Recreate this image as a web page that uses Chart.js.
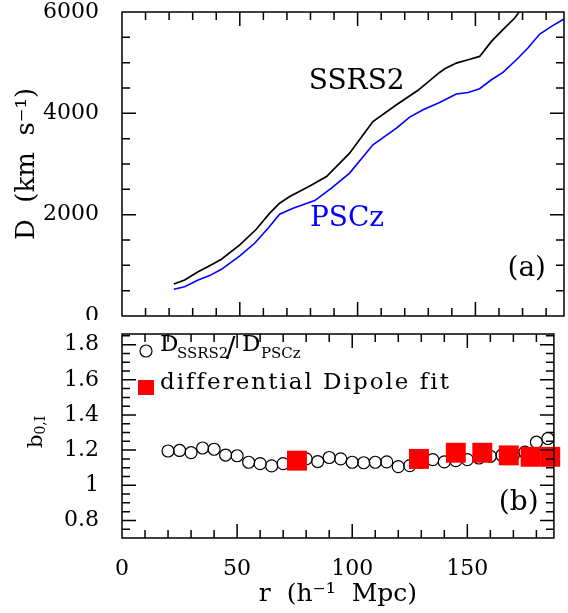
<!DOCTYPE html>
<html>
<head>
<meta charset="utf-8">
<script src="https://cdn.jsdelivr.net/npm/chart.js@4.4.0/dist/chart.umd.min.js"></script>
<style>
body{margin:0;background:#fff;}
#wrap{position:relative;width:568px;height:613px;}
canvas{position:absolute;left:0;}
</style>
</head>
<body>
<div id="wrap">
<canvas id="top" width="568" height="320" style="top:0"></canvas>
<canvas id="bot" width="568" height="293" style="top:320px"></canvas>
</div>
<script>
// values (r in h^-1 Mpc, D in km/s)
var rSSRS2 = [22, 26.6, 32.3, 37.2, 42.2, 50, 57, 62.7, 66.9, 71.2, 79.7, 86.8, 96.6, 106.5, 116.5, 125.5, 134.8, 137, 141.9, 146.9, 151.8, 156.8, 161.7, 166.7, 169.5, 175];
var dSSRS2 = [632, 711, 875, 994, 1120, 1403, 1712, 2029, 2226, 2357, 2568, 2753, 3214, 3839, 4169, 4450, 4807, 4880, 4992, 5058, 5123, 5420, 5651, 5882, 6060, 6400];
var rPSCz = [22, 26.6, 32.3, 37.2, 42.2, 50, 56.3, 62, 66.9, 72.6, 81.8, 88.9, 96.6, 106.5, 116.5, 122.1, 127.8, 134.8, 141.9, 146.9, 151.8, 156.8, 161.7, 167.4, 172.3, 177.3, 182.3, 187.6];
var dPSCz = [527, 579, 711, 797, 922, 1185, 1436, 1732, 2009, 2128, 2278, 2523, 2820, 3378, 3708, 3926, 4070, 4214, 4380, 4412, 4485, 4663, 4807, 5058, 5289, 5565, 5716, 5862];

// panel (b): ratio D_SSRS2/D_PSCz (circles) and differential dipole fit (squares)
var rRatio = [20, 25, 30, 35, 40, 45, 50, 55, 60, 65, 70, 75, 80, 85, 90, 95, 100, 105, 110, 115, 120, 125, 130, 135, 140, 145, 150, 155, 160, 165, 170, 175, 180, 185];
var bRatio = [1.195, 1.198, 1.186, 1.212, 1.205, 1.172, 1.168, 1.131, 1.123, 1.110, 1.123, 1.14, 1.15, 1.135, 1.158, 1.15, 1.131, 1.128, 1.131, 1.133, 1.106, 1.112, 1.13, 1.146, 1.133, 1.14, 1.146, 1.155, 1.165, 1.171, 1.172, 1.188, 1.245, 1.266];
var rFit = [76, 129, 145, 156.5, 168, 177.5, 186];
var bFit = [1.14, 1.15, 1.185, 1.185, 1.17, 1.162, 1.162];

var xTicks = [0, 50, 100, 150];
var dTicks = [0, 2000, 4000, 6000];
var bTicks = [0.8, 1, 1.2, 1.4, 1.6, 1.8];

Chart.defaults.font.family = '"DejaVu Serif", serif';
Chart.defaults.color = '#000';

function pts(xs, ys) { return xs.map(function(x, i) { return {x: x, y: ys[i]}; }); }
function fmt(v) { return String(Math.round(v * 100) / 100); }
function setTicks(arr) { return function(s) { s.ticks = arr.map(function(v) { return {value: v}; }); }; }
// axis boxes get a fixed size so both panels line up
function fixW(w) { return function(s) { s.width = w; s.paddingTop = 0; s.paddingBottom = 0; }; }
function fixH(h) { return function(s) { s.height = h; s.paddingLeft = 0; s.paddingRight = 0; }; }
function isMajor(v, m) { return Math.abs(v / m - Math.round(v / m)) < 1e-6; }

// box round the plot + ticks pointing inwards on all 4 sides
function makeFrame(xs, xm, ys, ym) {
  return {
    id: 'frame',
    afterDraw: function(chart) {
      var ctx = chart.ctx, a = chart.chartArea, sx = chart.scales.x, sy = chart.scales.y;
      var k, v, p, len;
      ctx.save();
      ctx.strokeStyle = '#000';
      ctx.lineWidth = 1.5;
      ctx.beginPath();
      for (k = Math.ceil(sx.min / xs - 1e-6); k * xs <= sx.max + 1e-6; k++) {
        v = k * xs; p = sx.getPixelForValue(v); len = isMajor(v, xm) ? 14 : 8;
        ctx.moveTo(p, a.bottom); ctx.lineTo(p, a.bottom - len);
        ctx.moveTo(p, a.top); ctx.lineTo(p, a.top + len);
      }
      for (k = Math.ceil(sy.min / ys - 1e-6); k * ys <= sy.max + 1e-6; k++) {
        v = k * ys; p = sy.getPixelForValue(v); len = isMajor(v, ym) ? 14 : 8;
        ctx.moveTo(a.left, p); ctx.lineTo(a.left + len, p);
        ctx.moveTo(a.right, p); ctx.lineTo(a.right - len, p);
      }
      ctx.rect(a.left, a.top, a.right - a.left, a.bottom - a.top);
      ctx.stroke();
      ctx.restore();
    }
  };
}

// text labels placed in data coordinates
function makeNotes(items) {
  return {
    id: 'notes',
    afterDatasetsDraw: function(chart) {
      var ctx = chart.ctx, sx = chart.scales.x, sy = chart.scales.y;
      ctx.save();
      ctx.textAlign = 'center';
      ctx.textBaseline = 'alphabetic';
      items.forEach(function(t) {
        ctx.font = t.size + 'px "DejaVu Serif"';
        ctx.fillStyle = t.color || '#000';
        ctx.fillText(t.text, sx.getPixelForValue(t.x), sy.getPixelForValue(t.y));
      });
      ctx.restore();
    }
  };
}

// legend with subscripts and the b_{0,I} axis label (chart.js can't do subscripts)
var extras = {
  id: 'extras',
  afterDatasetsDraw: function(chart) {
    var ctx = chart.ctx;
    ctx.save();
    ctx.fillStyle = '#000';
    ctx.textAlign = 'left';
    ctx.textBaseline = 'alphabetic';
    // circle marker
    ctx.beginPath();
    ctx.arc(146, 31, 6, 0, Math.PI * 2);
    ctx.lineWidth = 1.2;
    ctx.strokeStyle = '#000';
    ctx.stroke();
    ctx.font = '23px "DejaVu Serif"';
    ctx.fillText('D', 160, 31);
    ctx.fillText('D', 242, 31);
    ctx.font = '28px "DejaVu Serif"';
    ctx.fillText('/', 226, 37);
    ctx.font = '15px "DejaVu Serif"';
    ctx.fillText('SSRS2', 177, 38);
    ctx.fillText('PSCz', 261, 38);
    // red square marker
    ctx.fillStyle = '#ff0000';
    ctx.fillRect(138, 60, 16, 15);
    ctx.fillStyle = '#000';
    ctx.font = '23px "DejaVu Serif"';
    ctx.letterSpacing = '2px';
    ctx.fillText('differential Dipole fit', 160, 69);
    ctx.letterSpacing = '0px';
    // y label b_{0,I}
    ctx.translate(42, 128);
    ctx.rotate(-Math.PI / 2);
    ctx.font = '21px "DejaVu Serif"';
    ctx.fillText('b', 0, 0);
    var w = ctx.measureText('b').width;
    ctx.font = '14px "DejaVu Serif"';
    ctx.fillText('0,I', w, 3);
    ctx.restore();
  }
};

var tickFont = {size: 22};

new Chart(document.getElementById('top'), {
  type: 'scatter',
  data: {
    datasets: [
      {data: pts(rSSRS2, dSSRS2), showLine: true, borderColor: '#000', borderWidth: 1.7, pointRadius: 0, tension: 0},
      {data: pts(rPSCz, dPSCz), showLine: true, borderColor: '#0000ff', borderWidth: 1.6, pointRadius: 0, tension: 0}
    ]
  },
  options: {
    responsive: false,
    animation: false,
    layout: {padding: {top: 12, right: 4, bottom: 4, left: 0}},
    scales: {
      x: {min: 0, max: 187.6, display: false},
      y: {
        min: 0, max: 6000,
        afterBuildTicks: setTicks(dTicks),
        afterFit: fixW(122),
        grid: {display: false}, border: {display: false},
        ticks: {font: tickFont, padding: 15, callback: fmt},
        title: {display: true, text: 'D  (km  s\u207B\u00B9)', font: {size: 26}, padding: {top: 12, bottom: 0}}
      }
    },
    plugins: {legend: {display: false}, tooltip: {enabled: false}}
  },
  plugins: [
    makeFrame(10, 50, 500, 2000),
    makeNotes([
      {text: 'SSRS2', x: 99.6, y: 4480, size: 28},
      {text: 'PSCz', x: 95.5, y: 1778, size: 28, color: '#0000ff'},
      {text: '(a)', x: 171.8, y: 790, size: 28}
    ])
  ]
});

new Chart(document.getElementById('bot'), {
  type: 'scatter',
  data: {
    datasets: [
      {data: pts(rFit, bFit), pointStyle: 'rect', pointRadius: 14.1, backgroundColor: '#ff0000', borderWidth: 0, clip: false},
      {data: pts(rRatio, bRatio), pointStyle: 'circle', pointRadius: 6, backgroundColor: 'rgba(0,0,0,0)', borderColor: '#000', borderWidth: 1.2}
    ]
  },
  options: {
    responsive: false,
    animation: false,
    layout: {padding: {top: 2, right: 4, bottom: 0, left: 0}},
    scales: {
      x: {
        min: 0, max: 187.6,
        afterBuildTicks: setTicks(xTicks),
        afterFit: fixH(75),
        grid: {display: false}, border: {display: false},
        ticks: {font: tickFont, padding: 10, maxRotation: 0, callback: fmt},
        title: {display: true, text: 'r  (h\u207B\u00B9  Mpc)', font: {size: 25}, padding: {top: 0, bottom: 4}}
      },
      y: {
        min: 0.7, max: 1.86,
        afterBuildTicks: setTicks(bTicks),
        afterFit: fixW(122),
        grid: {display: false}, border: {display: false},
        ticks: {font: tickFont, padding: 15, callback: fmt}
      }
    },
    plugins: {legend: {display: false}, tooltip: {enabled: false}}
  },
  plugins: [
    makeFrame(10, 50, 0.05, 0.2),
    makeNotes([{text: '(b)', x: 172.3, y: 0.861, size: 28}]),
    extras
  ]
});
</script>
</body>
</html>
